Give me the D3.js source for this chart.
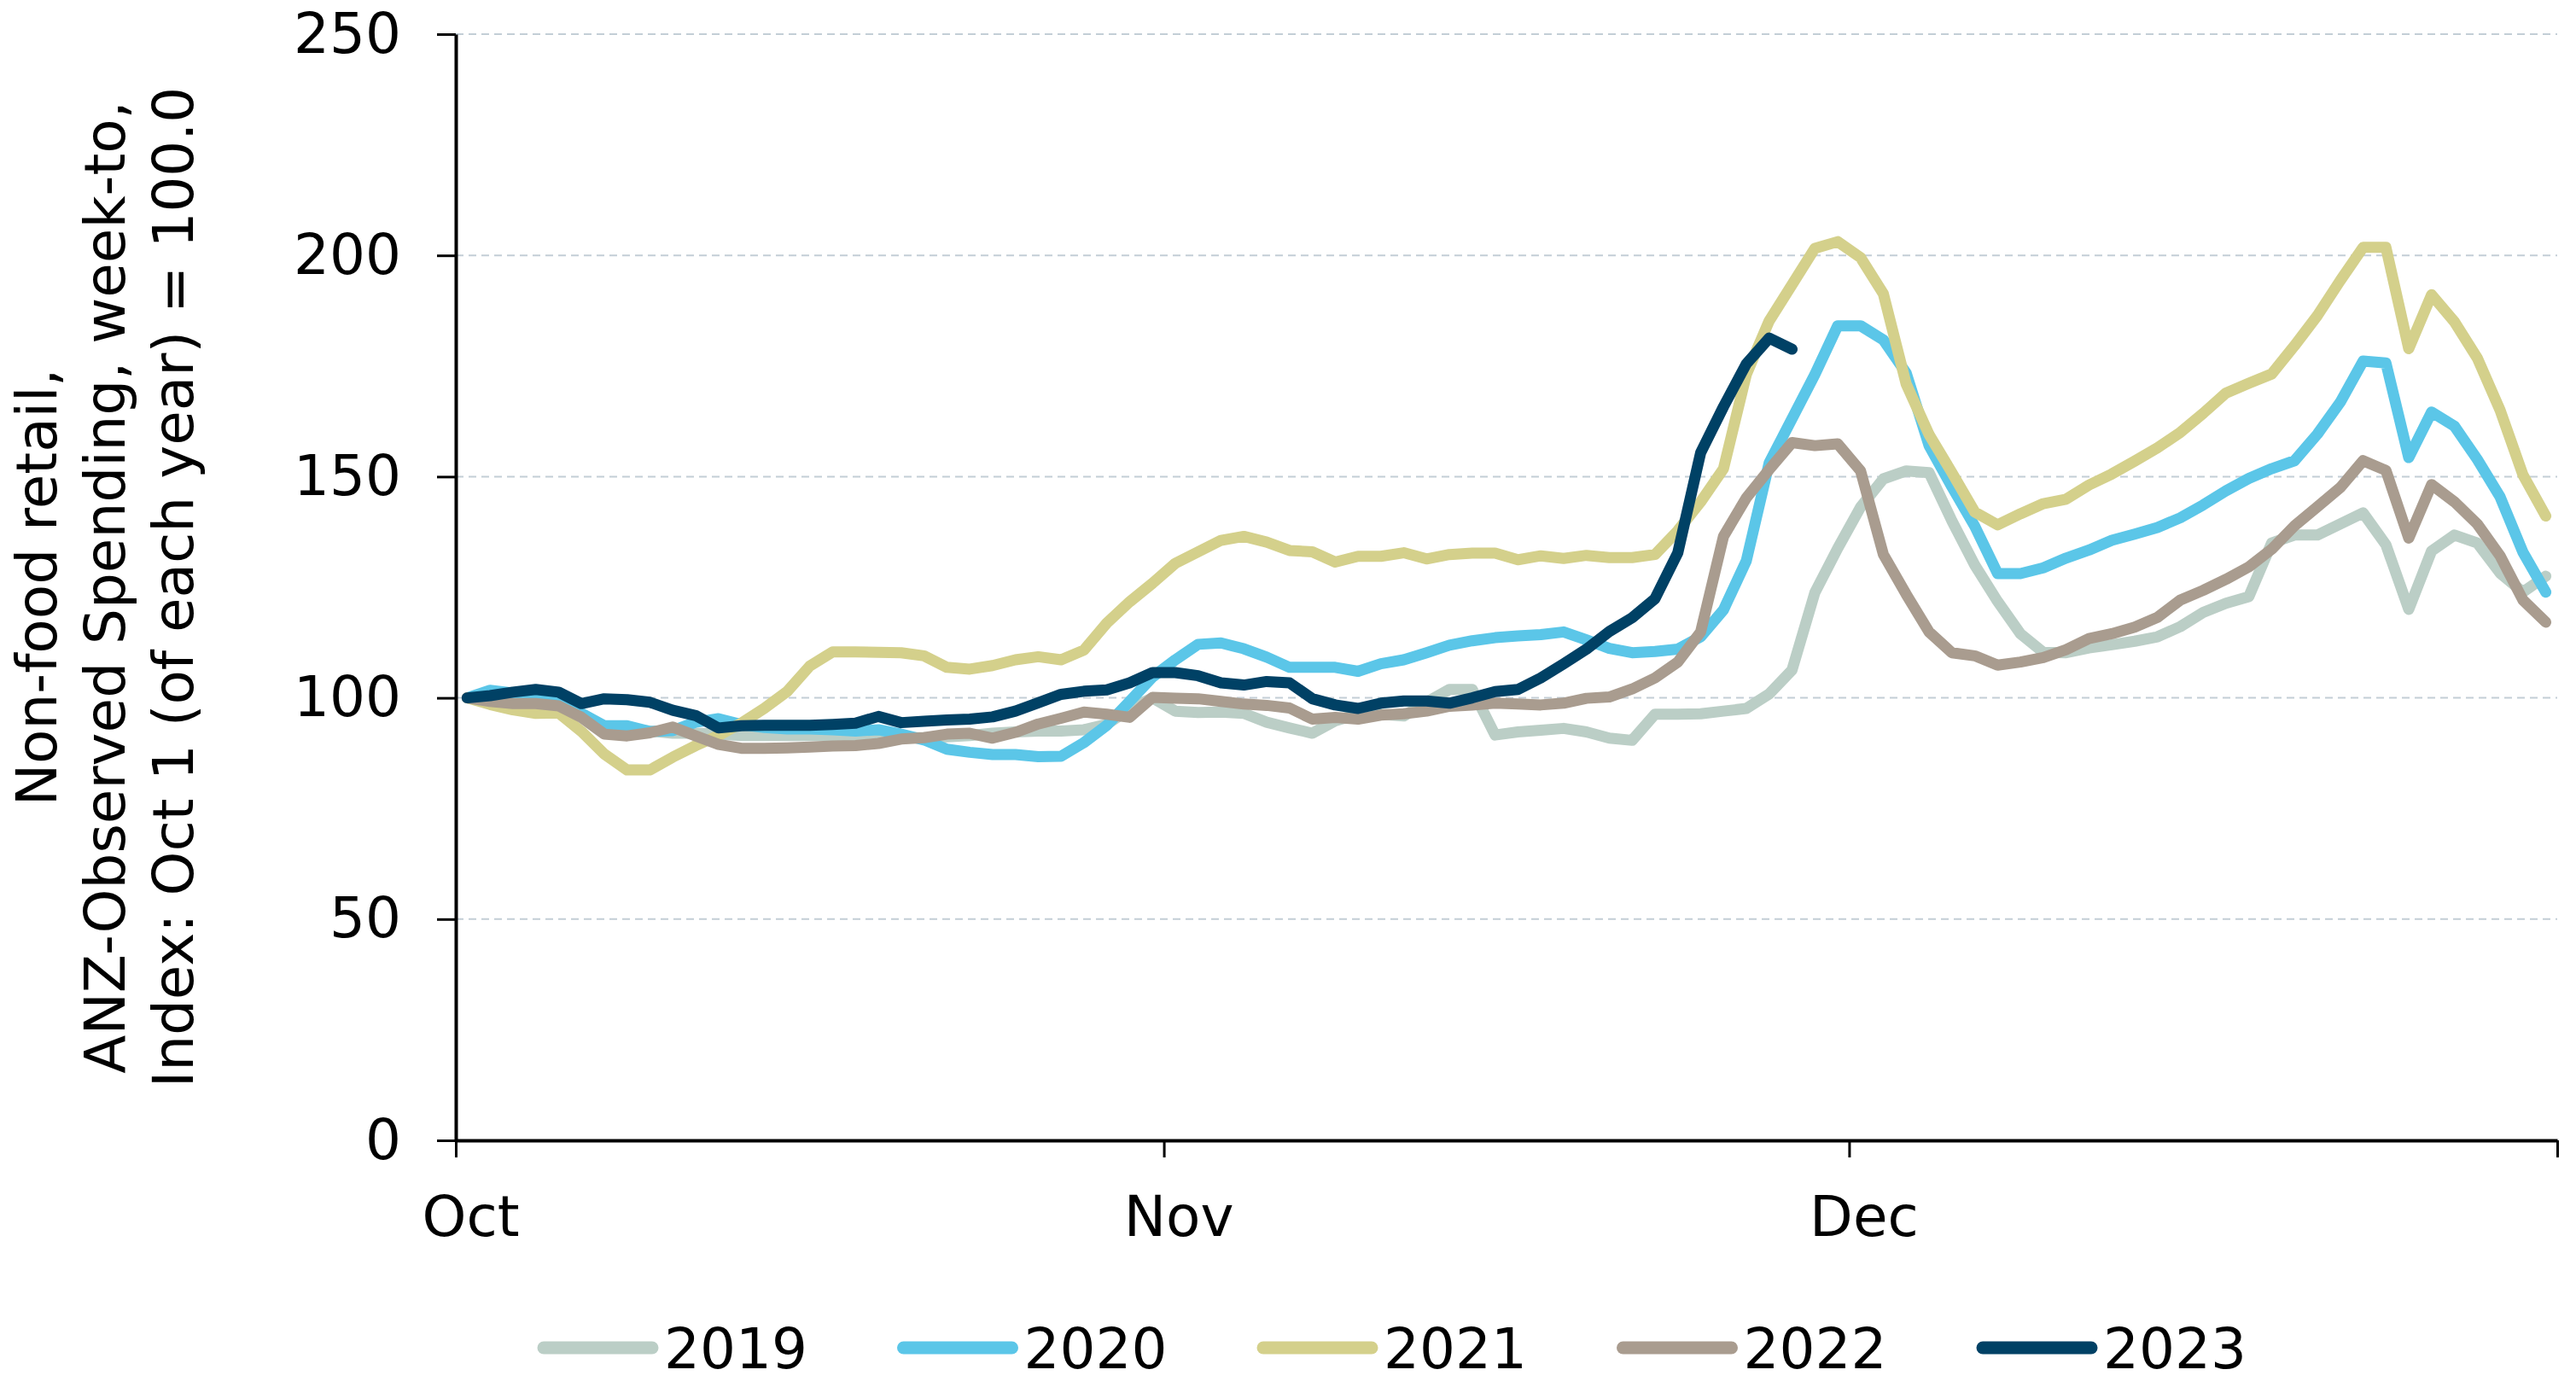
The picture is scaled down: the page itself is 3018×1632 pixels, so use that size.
<!DOCTYPE html>
<html>
<head>
<meta charset="utf-8">
<script src="https://cdn.jsdelivr.net/npm/d3@7"></script>
<style>
  body { margin: 0; background: #fff; }
  svg { display: block; }
</style>
</head>
<body>
<div id="chart"></div>
<script>
// Index values, one per day starting Oct 1
const years = ["2019", "2020", "2021", "2022", "2023"];
const colours = ["#bbcec6", "#5bc6e8", "#d4d08b", "#a99c8f", "#004165"];

const v2019 = [100, 99.5, 99, 98.8, 98, 96.5, 93.5, 93, 92.5, 92,
  92, 91.8, 91.5, 91.5, 91.5, 91.5, 91.5, 91.5, 91.3, 91,
  91, 91.2, 91.5, 92, 92.3, 92.5, 92.5, 92.8, 94, 97.5,
  100, 97, 96.7, 96.8, 96.5, 94.5, 93.2, 92, 94.8, 96.3,
  96.3, 95.9, 99, 101.9, 101.9, 91.6, 92.3, 92.7, 93.1, 92.3,
  90.9, 90.4, 96.3, 96.3, 96.4, 97, 97.6, 100.9, 106.3, 123.8,
  133.8, 143.1, 149.5, 151.3, 150.9, 140, 130, 121.8, 114.5, 110.3,
  110.2, 111.3, 112, 112.8, 113.8, 116.1, 119.3, 121.4, 122.9, 135,
  136.8, 136.8, 139.3, 141.8, 134.6, 120, 133.2, 136.8, 135, 128.2,
  123.9, 127.5];

const v2020 = [100, 101.7, 101.1, 100, 99, 96.5, 93.7, 93.7, 92.4, 92.6,
  94.5, 95.3, 94, 93.3, 93, 93, 92.8, 92.5, 92.8, 91.8,
  90.5, 88.4, 87.7, 87.2, 87.2, 86.7, 86.8, 89.9, 93.8, 99.2,
  104.7, 108.6, 112.1, 112.4, 111.1, 109.2, 106.9, 106.9, 106.9, 106,
  107.7, 108.6, 110.2, 111.9, 112.9, 113.6, 114, 114.3, 114.9, 113.1,
  111.2, 110.2, 110.5, 111, 113.8, 119.9, 131, 153.1, 163.1, 173.1,
  184.1, 184.1, 180.9, 173.4, 157, 147.7, 138.8, 128.1, 128.1, 129.4,
  131.6, 133.4, 135.6, 137, 138.5, 140.7, 143.6, 146.8, 149.6, 151.8,
  153.6, 159.6, 166.8, 176.1, 175.7, 154.3, 164.6, 161.4, 153.9, 145.4,
  132.9, 123.9];

const v2021 = [100, 98.5, 97.3, 96.5, 96.6, 92.4, 87.3, 83.7, 83.7, 86.6,
  89.2, 91.5, 94.3, 97.6, 101.4, 107.2, 110.4, 110.4, 110.3, 110.2,
  109.5, 106.9, 106.5, 107.3, 108.6, 109.3, 108.6, 110.8, 116.9, 121.7,
  125.9, 130.4, 133, 135.6, 136.5, 135.2, 133.3, 133, 130.7, 132,
  132, 132.8, 131.4, 132.4, 132.7, 132.7, 131.2, 132.1, 131.5, 132.2,
  131.7, 131.7, 132.4, 137.8, 144.3, 151.8, 173.1, 185.2, 193.4, 201.6,
  203.1, 199.5, 191.3, 170.9, 159.5, 150.9, 142, 139.1, 141.6, 143.9,
  144.9, 148.1, 150.6, 153.5, 156.5, 160, 164.3, 168.9, 171.1, 173.2,
  179.6, 186.4, 194.3, 201.8, 201.8, 178.9, 191.1, 185, 176.8, 165,
  150.4, 141.1];

const v2022 = [100, 99.2, 98.7, 98.7, 98.2, 95.6, 91.8, 91.4, 92.1, 93.4,
  91.4, 89.5, 88.6, 88.6, 88.7, 88.9, 89.1, 89.2, 89.7, 90.7,
  91, 91.8, 92, 90.9, 92.2, 94.1, 95.4, 96.8, 96.3, 95.6,
  100.1, 99.9, 99.8, 99.2, 98.6, 98.3, 97.7, 95.2, 95.6, 95.2,
  96.1, 96.4, 97, 98.1, 98.4, 98.8, 98.6, 98.4, 98.8, 99.9,
  100.2, 102, 104.5, 108.1, 114.9, 136.5, 145.2, 151.6, 157.7, 157,
  157.4, 151.3, 132.4, 123.4, 114.9, 110.2, 109.5, 107.4, 108.1, 109.1,
  110.9, 113.4, 114.5, 116, 118.2, 122.1, 124.3, 126.8, 129.6, 133.6,
  138.9, 143.2, 147.5, 153.6, 151.4, 136.1, 148.2, 144.3, 139.3, 132.1,
  122.1, 117.1];

const v2023 = [100, 100.5, 101.3, 101.9, 101.3, 98.7, 99.8, 99.6, 99, 97.2,
  96, 93.2, 93.7, 93.8, 93.8, 93.8, 94, 94.3, 95.8, 94.4,
  94.7, 95, 95.2, 95.7, 97, 98.9, 100.8, 101.5, 101.8, 103.4,
  105.7, 105.7, 105, 103.4, 102.9, 103.7, 103.4, 99.8, 98.4, 97.6,
  98.8, 99.3, 99.3, 98.8, 100, 101.4, 101.9, 104.5, 107.7, 111,
  115, 118.1, 122.4, 132.8, 155.4, 165.8, 175.5, 181.3, 178.8];

const monthTicks = [new Date(Date.UTC(2023, 9, 1)), new Date(Date.UTC(2023, 10, 1)),
  new Date(Date.UTC(2023, 11, 1)), new Date(Date.UTC(2024, 0, 1))];
const yTicks = [0, 50, 100, 150, 200, 250];
const yTitle = ["Non-food retail,", "ANZ-Observed Spending, week-to,", "Index: Oct 1 (of each year) = 100.0"];

const series = [v2019, v2020, v2021, v2022, v2023];

// plot box
const width = 3018, height = 1632;
const plot = { left: 534, right: 2996, top: 40, bottom: 1336 };
const font = "'DejaVu Sans', Verdana, sans-serif";

const svg = d3.select("#chart").append("svg")
  .attr("width", width)
  .attr("height", height)
  .style("font-family", font);

svg.append("rect").attr("width", width).attr("height", height).attr("fill", "#fff");

const x = d3.scaleUtc()
  .domain([monthTicks[0], monthTicks[3]])
  .range([plot.left, plot.right]);

const y = d3.scaleLinear()
  .domain([0, 250])
  .range([plot.bottom, plot.top]);

// each value sits in the middle of its day
const dayOf = i => new Date(Date.UTC(2023, 9, 1 + i, 12));

// dashed gridlines
svg.append("g")
  .selectAll("line")
  .data(yTicks.filter(t => t > 0))
  .join("line")
  .attr("x1", plot.left)
  .attr("x2", plot.right)
  .attr("y1", d => y(d))
  .attr("y2", d => y(d))
  .attr("stroke", "#c3ced6")
  .attr("stroke-width", 2)
  .attr("stroke-dasharray", "9,6");

// series lines
const line = d3.line()
  .x((d, i) => x(dayOf(i)))
  .y(d => y(d));

svg.append("g")
  .selectAll("path")
  .data(series)
  .join("path")
  .attr("d", line)
  .attr("fill", "none")
  .attr("stroke", (d, i) => colours[i])
  .attr("stroke-width", 13)
  .attr("stroke-linejoin", "round")
  .attr("stroke-linecap", "round");

// y axis
const yAxis = svg.append("g")
  .attr("transform", "translate(" + plot.left + ",0)")
  .call(d3.axisLeft(y).tickValues(yTicks).tickSize(22).tickSizeOuter(0).tickPadding(42));

// x axis
const xAxis = svg.append("g")
  .attr("transform", "translate(0," + plot.bottom + ")")
  .call(d3.axisBottom(x).tickValues(monthTicks).tickSize(20).tickSizeOuter(0)
    .tickFormat(d => d.getUTCMonth() === 0 ? "" : d3.utcFormat("%b")(d)));

xAxis.selectAll("text")
  .attr("y", 112)
  .attr("dy", null)
  .attr("dx", 17);

[yAxis, xAxis].forEach(a => {
  a.select(".domain").attr("stroke", "#000").attr("stroke-width", 4);
  a.selectAll(".tick line").attr("stroke", "#000").attr("stroke-width", 3);
  a.selectAll("text")
    .attr("fill", "#000")
    .style("font-family", font)
    .style("font-size", "66px");
});

// y axis title, three lines rotated
const title = svg.append("text")
  .attr("transform", "translate(0," + ((plot.top + plot.bottom) / 2) + ") rotate(-90)")
  .attr("text-anchor", "middle")
  .style("font-size", "66px")
  .attr("fill", "#000");

title.selectAll("tspan")
  .data(yTitle)
  .join("tspan")
  .attr("x", 0)
  .attr("y", (d, i) => 66 + i * 80)
  .text(d => d);

// legend
const legend = svg.append("g")
  .selectAll("g")
  .data(years)
  .join("g")
  .attr("transform", (d, i) => "translate(" + (637 + i * 421.5) + ",1579)");

legend.append("line")
  .attr("x1", 0)
  .attr("x2", 127)
  .attr("stroke", (d, i) => colours[i])
  .attr("stroke-width", 15)
  .attr("stroke-linecap", "round");

legend.append("text")
  .attr("x", 141)
  .attr("y", 24)
  .style("font-size", "66px")
  .attr("fill", "#000")
  .text(d => d);
</script>
</body>
</html>
